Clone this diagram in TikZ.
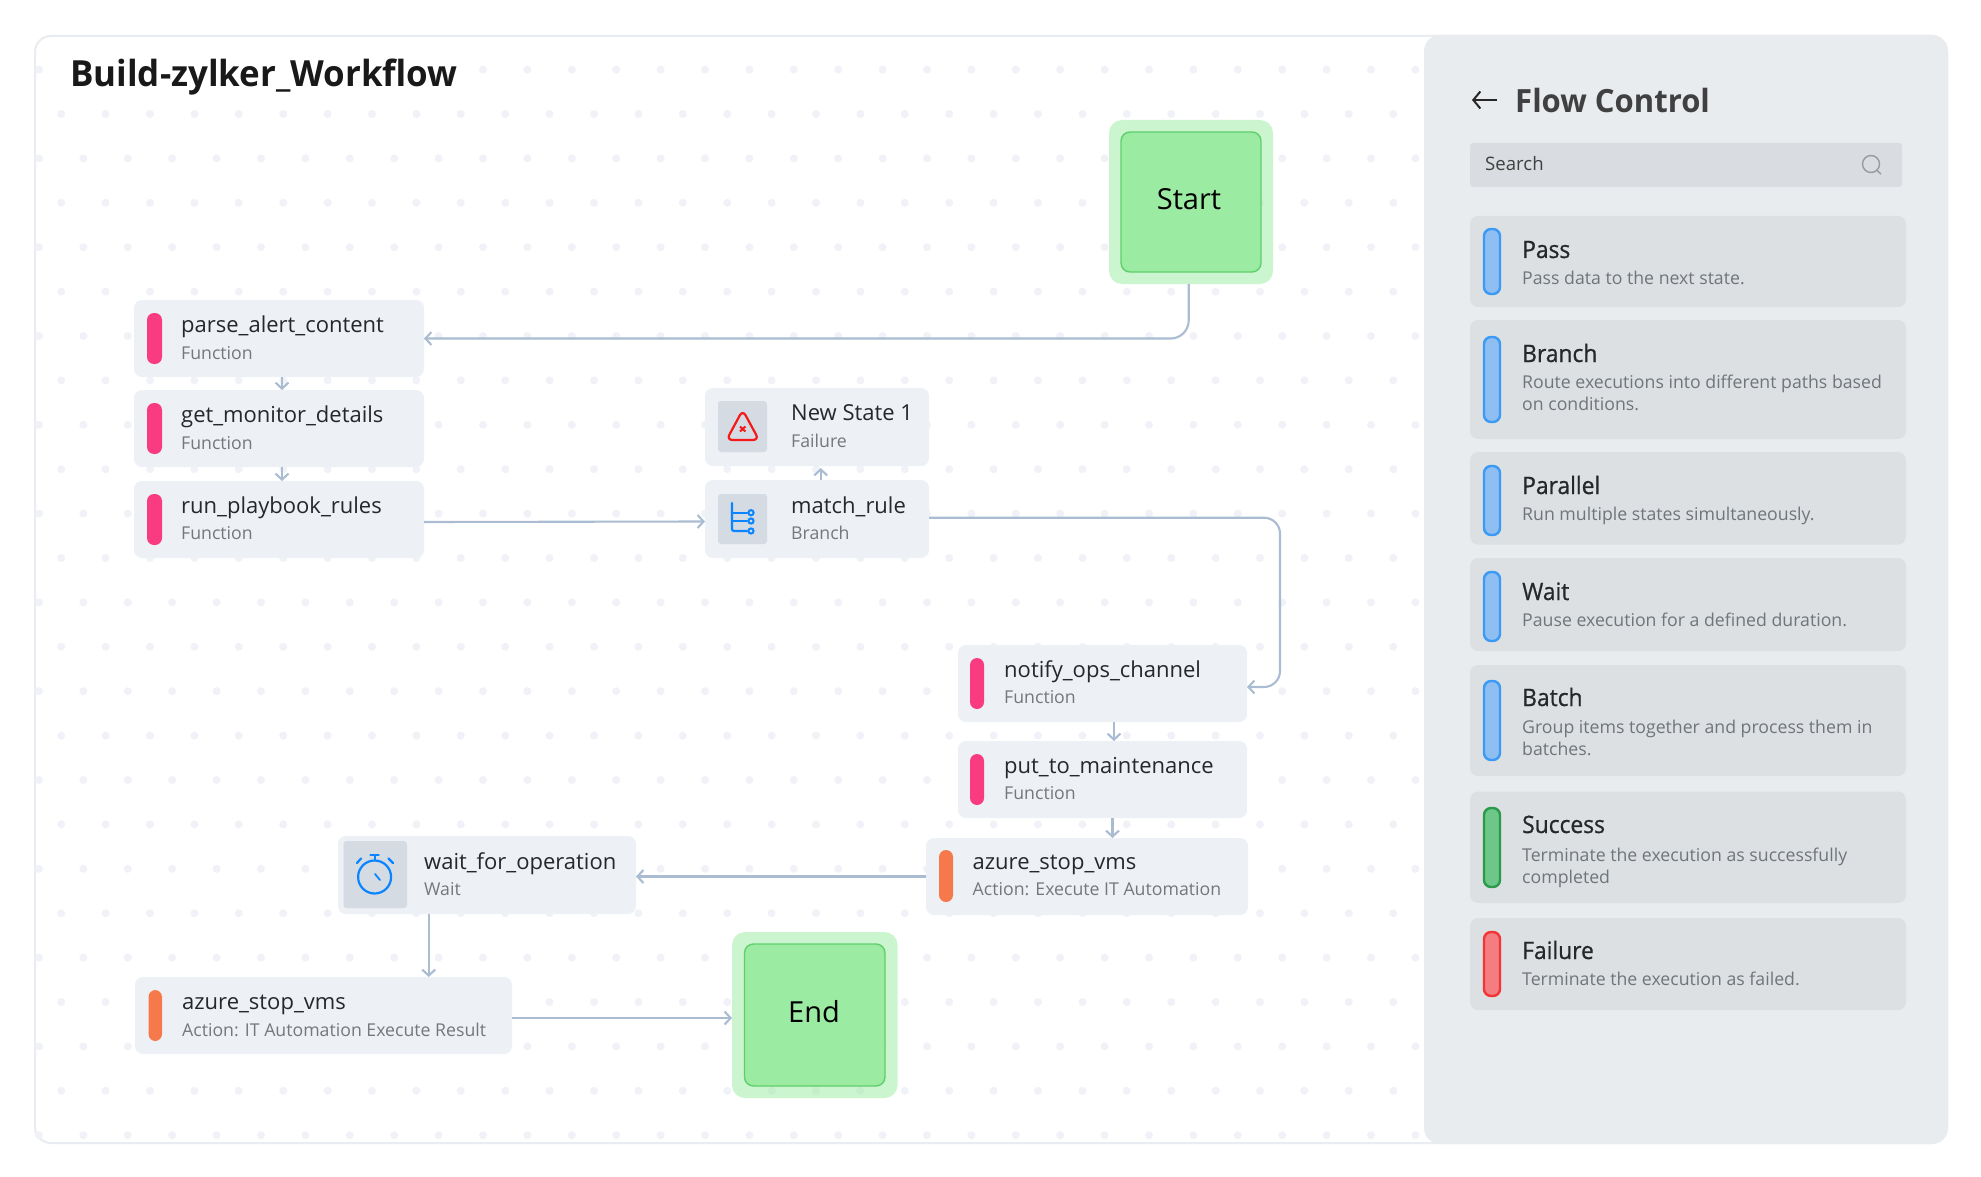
\documentclass[tikz,border=0pt]{standalone}
\usepackage{fontspec}
\usetikzlibrary{arrows.meta}
\setmainfont{Open Sans}
\newfontfamily\puvi{Open Sans}
\newfontfamily\puvib[FakeStretch=0.95,FakeBold=0.8]{Open Sans}
\newfontfamily\puvih[FakeStretch=0.97]{Open Sans}
\definecolor{framec}{HTML}{E9ECF0}
\definecolor{panelc}{HTML}{E9ECEF}
\definecolor{cardc}{HTML}{DCE0E3}
\definecolor{searchc}{HTML}{D9DDE1}
\definecolor{boxc}{HTML}{EDF0F5}
\definecolor{iconbg}{HTML}{D5DBE3}
\definecolor{dotc}{HTML}{F1F2F7}
\definecolor{linec}{HTML}{A9BCD2}
\definecolor{pinkc}{HTML}{F93B80}
\definecolor{orangec}{HTML}{F5794A}
\definecolor{bluef}{HTML}{8FBFF2}
\definecolor{blues}{HTML}{3B9AF5}
\definecolor{greenf}{HTML}{6CC788}
\definecolor{greens}{HTML}{2B9A4A}
\definecolor{redf}{HTML}{F47D80}
\definecolor{reds}{HTML}{F23535}
\definecolor{iconblue}{HTML}{0A84FF}
\definecolor{iconred}{HTML}{F51A1A}
\definecolor{darktxt}{HTML}{25282B}
\definecolor{greytxt}{HTML}{70757A}
\definecolor{subtxt}{HTML}{74787D}
\definecolor{outerg}{HTML}{99EC9F}
\definecolor{innerg}{HTML}{98EB9F}
\definecolor{innerb}{HTML}{5FCF6D}
\tikzset{
  base/.style={inner sep=0pt,outer sep=0pt,anchor=north west},
  wfbox/.style={base,fill=boxc,rounded corners=8pt},
  iconbox/.style={base,fill=iconbg,rounded corners=3pt},
  pinkbar/.style={base,fill=pinkc,rounded corners=7pt},
  orangebar/.style={base,fill=orangec,rounded corners=7pt},
  cardbox/.style={base,fill=cardc,rounded corners=8pt},
  searchbox/.style={base,fill=searchc,rounded corners=3pt},
  bluebar/.style={base,fill=bluef,draw=blues,line width=2.4pt,rounded corners=7pt},
  greenbar/.style={base,fill=greenf,draw=greens,line width=2.4pt,rounded corners=7pt},
  redbar/.style={base,fill=redf,draw=reds,line width=2.4pt,rounded corners=7pt},
  outerbox/.style={base,fill=outerg,fill opacity=.5,rounded corners=13pt},
  innerbox/.style={base,fill=innerg,fill opacity=.92,draw=innerb,line width=1.4pt,rounded corners=9pt},
  wftitle/.style={inner sep=0pt,anchor=base west,font=\puvi\fontsize{22}{26}\selectfont,text=darktxt},
  wfsub/.style={inner sep=0pt,anchor=base west,font=\puvi\fontsize{17.7}{22}\selectfont,text=subtxt},
  cardtitle/.style={inner sep=0pt,anchor=base west,font=\puvib\fontsize{24}{28}\selectfont,text=darktxt},
  carddesc/.style={inner sep=0pt,anchor=base west,align=left,font=\puvi\fontsize{17.7}{22}\selectfont,text=greytxt},
  conn/.style={draw=linec,line width=2.1pt,-{Straight Barb[length=6pt,width=13pt]}},
  iconline/.style={draw=iconblue,line width=2.2pt,line cap=round}
}
\newcommand{\rr}[6]{\node[#2,minimum width={(#5-#3)*1pt},minimum height={(#6-#4)*1pt}] (#1) at (#3,#4) {};}
\begin{document}
\begin{tikzpicture}[x=1pt,y=-1pt]
\useasboundingbox (0,0) rectangle (1981,1177);
\fill[white] (0,0) rectangle (1981,1177);
% frame
\rr{frame}{base,fill=white,draw=framec,line width=2pt,rounded corners=16pt}{35}{36}{1947}{1143}
% dot grid
\foreach \n in {0,...,24}{
  \foreach \k in {0,...,31}{
    \fill[dotc] ({39+22.2*mod(\n,2)+44.4*\k},{69.6+44.4*\n}) circle (4pt);
  }
}
% panel
\rr{panel}{base,fill=panelc,rounded corners=16pt}{1424}{35}{1948}{1144}
% heading
\node[base,fill=white,minimum width=415pt,minimum height=40pt] (headbg) at (60,53) {};
\node[inner sep=0pt,anchor=base west,font=\puvih\bfseries\fontsize{36}{40}\selectfont,text=black!90] (heading) at (70,87) {Build-zylker\_Workflow};
% workflow boxes
\rr{parse}{wfbox}{134}{300}{424}{377}
\rr{get}{wfbox}{134}{390}{424}{467}
\rr{run}{wfbox}{134}{481}{424}{558}
\rr{newstate}{wfbox}{705}{388}{929}{466}
\rr{match}{wfbox}{705}{480}{929}{558}
\rr{notify}{wfbox}{958}{645}{1247}{722}
\rr{put}{wfbox}{958}{741}{1247}{818}
\rr{azure}{wfbox}{926}{838}{1248}{915}
\rr{wait}{wfbox}{338}{836}{636}{914}
\rr{stopres}{wfbox}{135}{977}{512}{1054}
% bars
\rr{parsebar}{pinkbar}{147}{313}{162}{364}
\rr{getbar}{pinkbar}{147}{403}{162}{454}
\rr{runbar}{pinkbar}{147}{494}{162}{545}
\rr{notifybar}{pinkbar}{970}{658}{984}{709}
\rr{putbar}{pinkbar}{970}{754}{984}{805}
\rr{azurebar}{orangebar}{939}{850}{953}{902}
\rr{stopresbar}{orangebar}{148.5}{990}{162}{1041}
% icon tiles
\rr{failtile}{iconbox}{718}{401}{767}{452}
\rr{branchtile}{iconbox}{718}{494}{767}{544}
\rr{waittile}{iconbox}{343.5}{841}{407}{908}
% failure icon
\draw[draw=iconred,line width=2.2pt,rounded corners=6pt] (742.7,410) -- (759,440) -- (726.5,440) -- cycle;
\draw[draw=iconred,line width=2pt] (740,426.5) -- (745.4,431.5) (745.4,426.5) -- (740,431.5);
% branch icon
\draw[iconline,rounded corners=2pt] (732,503) -- (732,531) -- (747,531);
\draw[iconline] (732,512.7) -- (747,512.7) (732,521) -- (747,521);
\draw[draw=iconblue,line width=2pt] (751,512.7) circle (2.6pt) (751,521) circle (2.6pt) (751,531) circle (2.6pt);
% clock icon
\draw[draw=iconblue,line width=2.2pt] (374.6,877) circle (16.5pt);
\draw[iconline] (374.6,860) -- (374.6,855.5) (370.5,855) -- (378.7,855);
\draw[iconline] (357,863) -- (361,858.5) (393,863) -- (388.5,858.5);
\draw[iconline,line width=1.8pt] (375,874) -- (380,880);
% workflow text
\node[wftitle] (parset) at (181,332) {parse\_alert\_content};
\node[wfsub] (parses) at (181,359.5) {Function};
\node[wftitle] (gett) at (181,422) {get\_monitor\_details};
\node[wfsub] (gets) at (181,449.5) {Function};
\node[wftitle] (runt) at (181,513) {run\_playbook\_rules};
\node[wfsub] (runs) at (181,539.5) {Function};
\node[wftitle] (newt) at (791,420) {New State 1};
\node[wfsub] (news) at (791,447) {Failure};
\node[wftitle] (matcht) at (791,513) {match\_rule};
\node[wfsub] (matchs) at (791,539.5) {Branch};
\node[wftitle] (notifyt) at (1004,677) {notify\_ops\_channel};
\node[wfsub] (notifys) at (1004,703.5) {Function};
\node[wftitle] (putt) at (1004,773) {put\_to\_maintenance};
\node[wfsub] (puts) at (1004,799.5) {Function};
\node[wftitle] (azuret) at (972.5,869) {azure\_stop\_vms};
\node[wfsub] (azures) at (972.5,895.5) {Action: Execute IT Automation};
\node[wftitle] (waitt) at (424,869) {wait\_for\_operation};
\node[wfsub] (waits) at (424,895.5) {Wait};
\node[wftitle] (stopt) at (182,1009) {azure\_stop\_vms};
\node[wfsub] (stops) at (182,1036.5) {Action: IT Automation Execute Result};
% start and end
\rr{start}{outerbox}{1109}{120}{1273}{284}
\rr{startin}{innerbox}{1121}{132}{1261}{272}
\node[inner sep=0pt,anchor=base,font=\puvi\fontsize{29}{32}\selectfont,text=black] (startt) at (1189,210) {Start};
\rr{endn}{outerbox}{732}{932}{897.5}{1098}
\rr{endin}{innerbox}{744.5}{944}{885}{1086}
\node[inner sep=0pt,anchor=base,font=\puvi\fontsize{29}{32}\selectfont,text=black] (endt) at (814,1022) {End};
% connectors
\coordinate (startdrop) at (1188.7,284);
\draw[conn,rounded corners=18pt] (startdrop) |- (parse.east);
\draw[conn] ([xshift=3pt]parse.south) -- ([xshift=3pt]get.north);
\draw[conn] ([xshift=3pt]get.south) -- ([xshift=3pt]run.north);
\draw[conn] ([yshift=-2.5pt]run.east) -- ([yshift=-2.5pt]match.west);
\draw[conn] ([xshift=3.7pt]match.north) -- ([xshift=3.7pt,yshift=-2pt]newstate.south);
\coordinate (matchbend) at (1280,600);
\draw[conn,rounded corners=16pt] ([yshift=1.3pt]match.east) -| (matchbend) |- ([yshift=-3.5pt]notify.east);
\draw[conn] ([xshift=11.5pt]notify.south) -- ([xshift=11.5pt]put.north);
\draw[conn] ([xshift=10pt]put.south) -- ([xshift=10pt]put.south |- azure.north);
\draw[conn] (azure.west) -- (azure.west -| wait.east);
\coordinate (waitdrop) at (428.7,914);
\draw[conn] (waitdrop) -- (waitdrop |- stopres.north);
\draw[conn] ([yshift=-2.5pt]stopres.east) -- ([yshift=-3pt]endn.west);
% panel header
\coordinate (backa) at (1497,100);
\coordinate (backb) at (1472,100);
\draw[draw=black!85,line width=2pt,-{Straight Barb[length=7pt,width=17pt]}] (backa) -- (backb);
\node[inner sep=0pt,anchor=base west,font=\puvih\bfseries\fontsize{32}{36}\selectfont,text=black!75] (flowt) at (1515,113) {Flow Control};
\rr{search}{searchbox}{1470}{143}{1902}{187}
\node[inner sep=0pt,anchor=base west,font=\puvi\fontsize{18.6}{22}\selectfont,text=black!75] (searcht) at (1485,171) {Search};
\draw[draw=black!40,line width=1.4pt] (1871,164) circle (8.5pt) (1877,170.5) -- (1881,174);
% cards
\rr{passc}{cardbox}{1470}{216}{1906}{307}
\rr{passb}{bluebar}{1484}{229}{1500}{294}
\node[cardtitle] (passt) at (1522,258) {Pass};
\node[carddesc] (passd) at (1522,284) {Pass data to the next state.};
\rr{branchc}{cardbox}{1470}{320}{1906}{439}
\rr{branchb}{bluebar}{1484}{337}{1500}{422}
\node[cardtitle] (brancht) at (1522,362) {Branch};
\node[carddesc] (branchd) at (1522,410) {Route executions into different paths based\\on conditions.};
\rr{parac}{cardbox}{1470}{452}{1906}{544.5}
\rr{parab}{bluebar}{1484}{466}{1500}{535}
\node[cardtitle] (parat) at (1522,494) {Parallel};
\node[carddesc] (parad) at (1522,520) {Run multiple states simultaneously.};
\rr{waitc}{cardbox}{1470}{558}{1906}{651}
\rr{waitb}{bluebar}{1484}{572}{1500}{641}
\node[cardtitle] (waitct) at (1522,600) {Wait};
\node[carddesc] (waitd) at (1522,626) {Pause execution for a defined duration.};
\rr{batchc}{cardbox}{1470}{665}{1906}{776}
\rr{batchb}{bluebar}{1484}{681}{1500}{760}
\node[cardtitle] (batcht) at (1522,706) {Batch};
\node[carddesc] (batchd) at (1522,755) {Group items together and process them in\\batches.};
\rr{succc}{cardbox}{1470}{791.5}{1906}{903}
\rr{succb}{greenbar}{1484}{808}{1500}{887}
\node[cardtitle] (succt) at (1522,833) {Success};
\node[carddesc] (succd) at (1522,883) {Terminate the execution as successfully\\completed};
\rr{failc}{cardbox}{1470}{918}{1906}{1010}
\rr{failb}{redbar}{1484}{932}{1500}{996}
\node[cardtitle] (failt) at (1522,959) {Failure};
\node[carddesc] (faild) at (1522,985) {Terminate the execution as failed.};
\end{tikzpicture}
\end{document}
